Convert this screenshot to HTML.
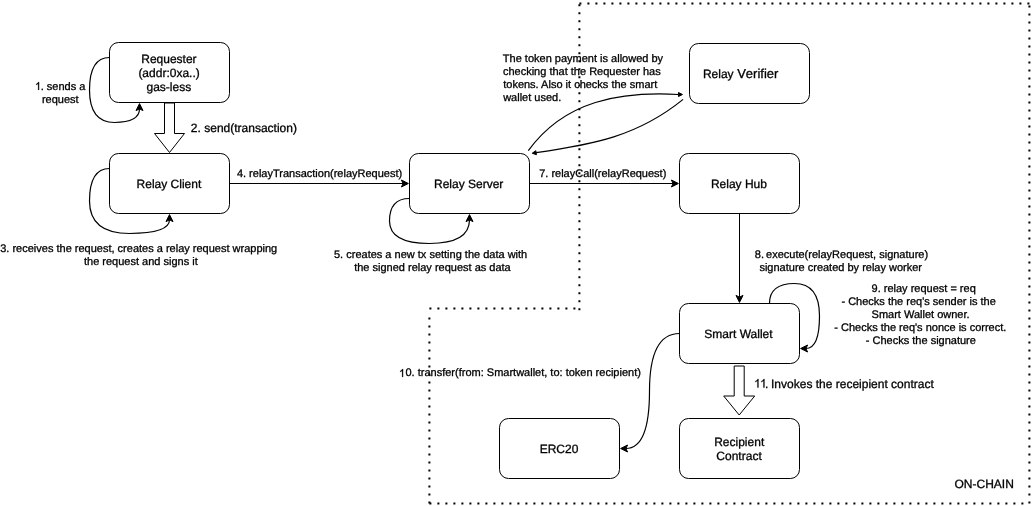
<!DOCTYPE html>
<html><head><meta charset="utf-8"><title>Relay flow</title>
<style>
html,body{margin:0;padding:0;background:#fff;}
body{width:1033px;height:506px;position:relative;overflow:hidden;font-family:"Liberation Sans",sans-serif;color:#000;}
svg{position:absolute;left:0;top:0;}
.g1{display:inline-block;position:static;width:0.556em;height:0.718em;vertical-align:baseline;overflow:visible;}
#txt{position:absolute;left:0;top:0;width:1033px;height:506px;will-change:transform;}
.t{position:absolute;white-space:nowrap;line-height:1;text-rendering:geometricPrecision;-webkit-text-stroke:0.3px #000;}
</style></head><body>
<svg width="1033" height="506" viewBox="0 0 1033 506">
<line x1="579.40" y1="3.4" x2="1029.40" y2="3.4" stroke="#000" stroke-width="2" stroke-dasharray="2 6"/>
<line x1="1029.4" y1="5.50" x2="1029.4" y2="503.50" stroke="#000" stroke-width="2" stroke-dasharray="2 6"/>
<line x1="429.40" y1="503.4" x2="1023.40" y2="503.4" stroke="#000" stroke-width="2" stroke-dasharray="2 6"/>
<line x1="429.4" y1="317.50" x2="429.4" y2="503.50" stroke="#000" stroke-width="2" stroke-dasharray="2 6"/>
<line x1="429.40" y1="308.5" x2="575.40" y2="308.5" stroke="#000" stroke-width="2" stroke-dasharray="2 6"/>
<line x1="579.4" y1="4.30" x2="579.4" y2="310.30" stroke="#000" stroke-width="2" stroke-dasharray="2 6"/>
<path d="M109.50,57.50 Q89.50,57.50 89.50,90.00 Q89.50,122.50 114.50,122.50 Q139.50,122.50 139.50,108.87" fill="none" stroke="#000" stroke-width="1.2" stroke-miterlimit="10" />
<path d="M139.50,103.62 L143.00,110.62 L139.50,108.87 L136.00,110.62 Z" fill="#000" stroke="#000" stroke-width="1" stroke-miterlimit="10"/>
<path d="M109.50,168.50 Q89.50,168.50 89.50,201.00 Q89.50,233.50 129.50,233.50 Q169.50,233.50 169.50,219.87" fill="none" stroke="#000" stroke-width="1.2" stroke-miterlimit="10" />
<path d="M169.50,214.62 L173.00,221.62 L169.50,219.87 L166.00,221.62 Z" fill="#000" stroke="#000" stroke-width="1" stroke-miterlimit="10"/>
<path d="M409.50,198.50 Q389.50,198.50 389.50,221.00 Q389.50,243.50 429.50,243.50 Q469.50,243.50 469.50,219.87" fill="none" stroke="#000" stroke-width="1.2" stroke-miterlimit="10" />
<path d="M469.50,214.62 L473.00,221.62 L469.50,219.87 L466.00,221.62 Z" fill="#000" stroke="#000" stroke-width="1" stroke-miterlimit="10"/>
<path d="M769.50,303.50 Q769.50,283.50 794.50,283.50 Q819.50,283.50 819.50,316.00 Q819.50,348.50 805.87,348.50" fill="none" stroke="#000" stroke-width="1.2" stroke-miterlimit="10" />
<path d="M800.62,348.50 L807.62,345.00 L805.87,348.50 L807.62,352.00 Z" fill="#000" stroke="#000" stroke-width="1" stroke-miterlimit="10"/>
<path d="M679.50,333.50 Q649.50,333.50 649.50,391.00 Q649.50,448.50 625.87,448.50" fill="none" stroke="#000" stroke-width="1.2" stroke-miterlimit="10" />
<path d="M620.62,448.50 L627.62,445.00 L625.87,448.50 L627.62,452.00 Z" fill="#000" stroke="#000" stroke-width="1" stroke-miterlimit="10"/>
<path d="M229.5,183.5 L403.13,183.50" fill="none" stroke="#000" stroke-width="1" stroke-miterlimit="10" />
<path d="M408.38,183.50 L401.38,187.00 L403.13,183.50 L401.38,180.00 Z" fill="#000" stroke="#000" stroke-width="1" stroke-miterlimit="10"/>
<path d="M529.5,183.5 L673.13,183.50" fill="none" stroke="#000" stroke-width="1" stroke-miterlimit="10" />
<path d="M678.38,183.50 L671.38,187.00 L673.13,183.50 L671.38,180.00 Z" fill="#000" stroke="#000" stroke-width="1" stroke-miterlimit="10"/>
<path d="M739.5,213.5 L739.50,297.13" fill="none" stroke="#000" stroke-width="1" stroke-miterlimit="10" />
<path d="M739.50,302.38 L736.00,295.38 L739.50,297.13 L743.00,295.38 Z" fill="#000" stroke="#000" stroke-width="1" stroke-miterlimit="10"/>
<path d="M528.3,150.7 C564.77,100.35 620.66,91.31 678.48,94.50" fill="none" stroke="#000" stroke-width="1.2" stroke-miterlimit="10" />
<path d="M682.48,94.50 L678.48,96.50 L678.48,92.50 Z" fill="#000" stroke="#000" stroke-width="1" stroke-miterlimit="10"/>
<path d="M683.1,99.4 C637.4,136.53 592.84,144.46 536.16,152.68" fill="none" stroke="#000" stroke-width="1.2" stroke-miterlimit="10" />
<path d="M532.20,153.25 L535.87,150.70 L536.45,154.66 Z" fill="#000" stroke="#000" stroke-width="1" stroke-miterlimit="10"/>
<path d="M164.5,103 L164.5,133.5 L154.5,133.5 L169.5,152.5 L184.5,133.5 L174.5,133.5 L174.5,103 Z" fill="#fff" stroke="#000" stroke-width="1" stroke-miterlimit="10"/>
<path d="M734.2,366 L734.2,396 L723.7,396 L739.2,415 L754.7,396 L744.2,396 L744.2,366 Z" fill="#fff" stroke="#000" stroke-width="1" stroke-miterlimit="10"/>
<rect x="109.5" y="42.5" width="120" height="60" rx="9" ry="9" fill="#fff" stroke="#000" stroke-width="1"/>
<rect x="109.5" y="153.5" width="120" height="60" rx="9" ry="9" fill="#fff" stroke="#000" stroke-width="1"/>
<rect x="409.5" y="153.5" width="120" height="60" rx="9" ry="9" fill="#fff" stroke="#000" stroke-width="1"/>
<rect x="689.5" y="43.5" width="120" height="60" rx="9" ry="9" fill="#fff" stroke="#000" stroke-width="1"/>
<rect x="679.5" y="153.5" width="120" height="60" rx="9" ry="9" fill="#fff" stroke="#000" stroke-width="1"/>
<rect x="679.5" y="303.5" width="120" height="60" rx="9" ry="9" fill="#fff" stroke="#000" stroke-width="1"/>
<rect x="499.5" y="418.5" width="120" height="60" rx="9" ry="9" fill="#fff" stroke="#000" stroke-width="1"/>
<rect x="679.5" y="418.5" width="120" height="60" rx="9" ry="9" fill="#fff" stroke="#000" stroke-width="1"/>
</svg>
<div id="txt">
<div class="t" id="req1" style="left:141.26px;top:52.61px;font-size:12px;">Requester</div>
<div class="t" id="req2" style="left:138.38px;top:66.81px;font-size:12px;">(addr:0xa..)</div>
<div class="t" id="req3" style="left:146.52px;top:80.50px;font-size:12px;">gas-less</div>
<div class="t" id="s1a" style="left:34.60px;top:81.60px;font-size:11px;"><svg class="g1" style="margin-right:0px" viewBox="0 0 1139 1471"><path transform="translate(0,1471) scale(1,-1)" d="M763 0H583V1147Q518 1085 412.5 1023T223 930V1104Q373 1175 485.5 1275.5T645 1471H763Z" fill="#000" stroke="#000" stroke-width="45"/></svg>. sends a</div>
<div class="t" id="s1b" style="left:41.93px;top:94.71px;font-size:11px;">request</div>
<div class="t" id="l2" style="left:190.86px;top:122.41px;font-size:12px;">2. send(transaction)</div>
<div class="t" id="rc" style="left:136.60px;top:177.81px;font-size:12px;">Relay Client</div>
<div class="t" id="l4" style="left:236.89px;top:168.90px;font-size:11px;">4. relayTransaction(relayRequest)</div>
<div class="t" id="l3a" style="left:0.22px;top:243.81px;font-size:11px;">3. receives the request, creates a relay request wrapping</div>
<div class="t" id="l3b" style="left:83.99px;top:256.76px;font-size:11px;">the request and signs it</div>
<div class="t" id="rs" style="left:433.97px;top:177.71px;font-size:12px;">Relay Server</div>
<div class="t" id="l5a" style="left:334.00px;top:249.81px;font-size:11px;">5. creates a new tx setting the data with</div>
<div class="t" id="l5b" style="left:354.19px;top:262.60px;font-size:11px;">the signed relay request as data</div>
<div class="t" id="tk1" style="left:502.86px;top:53.60px;font-size:11px;">The token payment is allowed by</div>
<div class="t" id="tk2" style="left:502.95px;top:66.60px;font-size:11px;">checking that the Requester has</div>
<div class="t" id="tk3" style="left:503.21px;top:79.51px;font-size:11px;">tokens. Also it checks the smart</div>
<div class="t" id="tk4" style="left:503.17px;top:92.51px;font-size:11px;">wallet used.</div>
<div class="t" id="l7" style="left:539.16px;top:168.90px;font-size:11px;">7. relayCall(relayRequest)</div>
<div class="t" id="rv" style="left:702.89px;top:67.00px;font-size:12px;font-kerning:none;">Relay<span style="font-size:13px"> Verifier</span></div>
<div class="t" id="rh" style="left:710.89px;top:177.71px;font-size:12px;">Relay Hub</div>
<div class="t" id="l8a" style="left:754.85px;top:249.60px;font-size:11px;"><span style="word-spacing:-1px">8. </span>execute(relayRequest, signature)</div>
<div class="t" id="l8b" style="left:759.42px;top:262.60px;font-size:11px;">signature created by relay worker</div>
<div class="t" id="l9a" style="left:871.53px;top:283.81px;font-size:11px;">9. relay request = req</div>
<div class="t" id="l9b" style="left:841.45px;top:296.71px;font-size:11px;">- Checks the req's sender is the</div>
<div class="t" id="l9c" style="left:871.57px;top:309.51px;font-size:11px;">Smart Wallet owner.</div>
<div class="t" id="l9d" style="left:834.30px;top:322.60px;font-size:11px;">- Checks the req's nonce is correct.</div>
<div class="t" id="l9e" style="left:865.85px;top:335.90px;font-size:11px;">- Checks the signature</div>
<div class="t" id="sw" style="left:704.34px;top:327.91px;font-size:12px;">Smart Wallet</div>
<div class="t" id="l10" style="left:399.40px;top:368.40px;font-size:11px;"><svg class="g1" style="margin-right:0px" viewBox="0 0 1139 1471"><path transform="translate(0,1471) scale(1,-1)" d="M763 0H583V1147Q518 1085 412.5 1023T223 930V1104Q373 1175 485.5 1275.5T645 1471H763Z" fill="#000" stroke="#000" stroke-width="45"/></svg>0. transfer(from: Smartwallet, to: token recipient)</div>
<div class="t" id="l11a" style="left:753.80px;top:377.81px;font-size:12px;"><svg class="g1" style="margin-right:-0.9px" viewBox="0 0 1139 1471"><path transform="translate(0,1471) scale(1,-1)" d="M763 0H583V1147Q518 1085 412.5 1023T223 930V1104Q373 1175 485.5 1275.5T645 1471H763Z" fill="#000" stroke="#000" stroke-width="45"/></svg><svg class="g1" style="margin-right:-1.2px" viewBox="0 0 1139 1471"><path transform="translate(0,1471) scale(1,-1)" d="M763 0H583V1147Q518 1085 412.5 1023T223 930V1104Q373 1175 485.5 1275.5T645 1471H763Z" fill="#000" stroke="#000" stroke-width="45"/></svg>.</div>
<div class="t" id="l11b" style="left:771.04px;top:377.81px;font-size:12px;">Invokes the receipient contract</div>
<div class="t" id="erc" style="left:539.69px;top:442.71px;font-size:12px;">ERC20</div>
<div class="t" id="rp1" style="left:714.20px;top:435.91px;font-size:12px;">Recipient</div>
<div class="t" id="rp2" style="left:716.36px;top:450.21px;font-size:12px;">Contract</div>
<div class="t" id="oc" style="left:954.49px;top:477.61px;font-size:12px;">ON-CHAIN</div>
</div>
</body></html>
